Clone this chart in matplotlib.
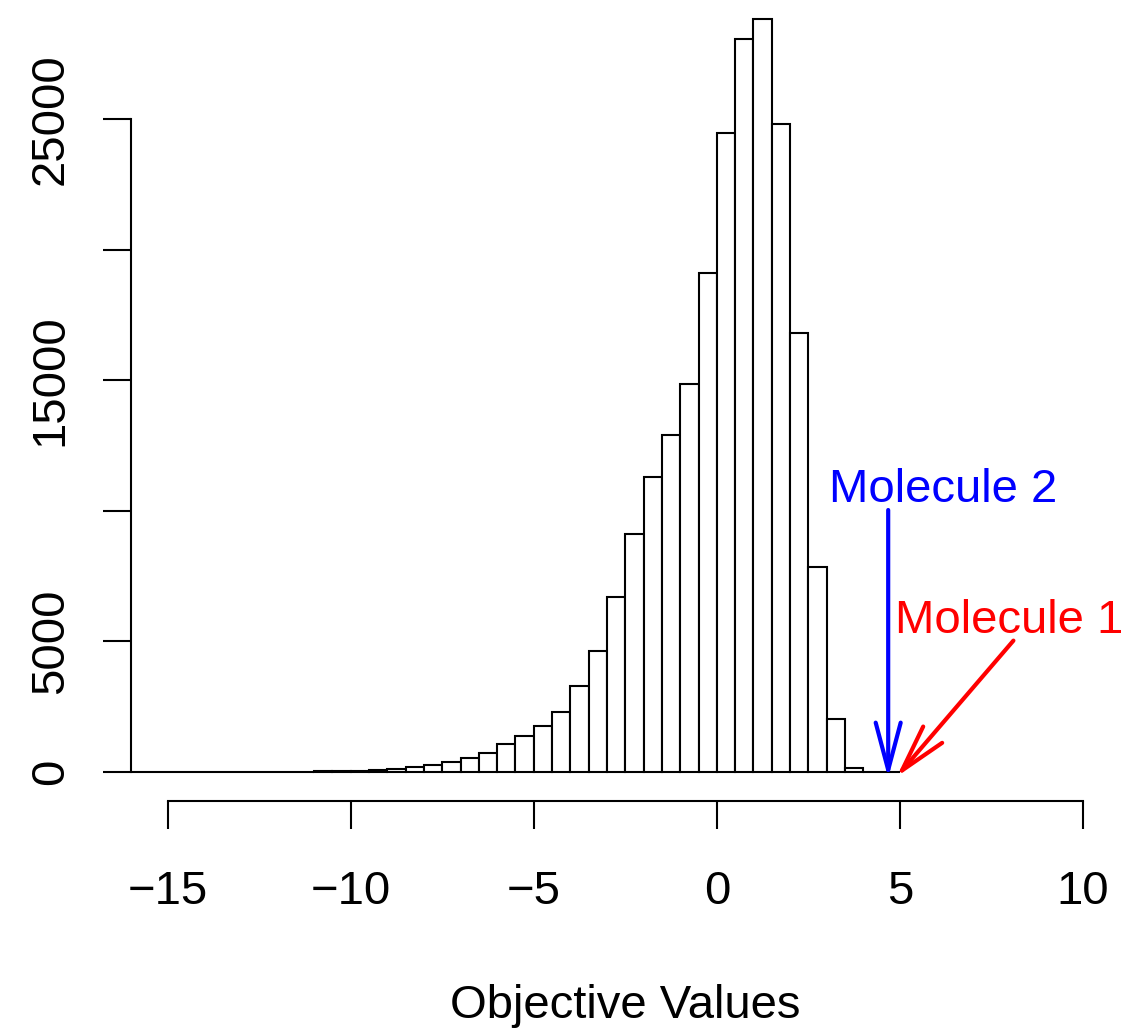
import numpy as np
import matplotlib
matplotlib.use("Agg")
import matplotlib.pyplot as plt

plt.rcParams['font.family'] = ['Liberation Sans', 'DejaVu Sans']

# histogram counts, bins of width 0.5 starting at -16
bin_left = [-16.0, -15.5, -15.0, -14.5, -14.0, -13.5, -13.0, -12.5, -12.0, -11.5,
            -11.0, -10.5, -10.0, -9.5, -9.0, -8.5, -8.0, -7.5, -7.0, -6.5,
            -6.0, -5.5, -5.0, -4.5, -4.0, -3.5, -3.0, -2.5, -2.0, -1.5,
            -1.0, -0.5, 0.0, 0.5, 1.0, 1.5, 2.0, 2.5, 3.0, 3.5, 4.0, 4.5]
counts = [10, 8, 6, 6, 5, 6, 8, 10, 12, 16,
          22, 30, 50, 65, 125, 190, 255, 380, 535, 715,
          1060, 1380, 1775, 2300, 3305, 4630, 6710, 9110, 11300, 12900,
          14870, 19090, 24480, 28080, 28830, 24820, 16820, 7860, 2030, 165, 15, 3]
bin_width = 0.5

x_ticks = [-15, -10, -5, 0, 5, 10]
y_ticks = [0, 5000, 10000, 15000, 20000, 25000]
y_tick_labels = ['0', '5000', '', '15000', '', '25000']

# annotations: (label, text x, text y, arrow tail, arrow tip, colour)
mol2 = ("Molecule 2", 6.19, 10350, (4.68, 10030), (4.68, -230), "#0000FF")
mol1 = ("Molecule 1", 7.98, 5330, (8.10, 5030), (4.91, -180), "#FF0000")

fig = plt.figure(figsize=(11.24, 10.29), dpi=100)
W, H = 1124, 1029
ax = fig.add_axes([131 / W, (H - 801) / H, (1119.6 - 131) / W, 801 / H])

ax.bar(bin_left, counts, width=bin_width, align='edge',
       facecolor='white', edgecolor='black', linewidth=1.5, zorder=2)

ax.set_xlim(-16, 11)
ax.set_ylim(-1110, 29556)

# R-like axes: lines only span first..last tick
for s in ['top', 'right']:
    ax.spines[s].set_visible(False)
ax.spines['left'].set_bounds(0, 25000)
ax.spines['bottom'].set_bounds(-15, 10)
for s in ['left', 'bottom']:
    ax.spines[s].set_linewidth(1.5)

ax.set_xticks(x_ticks)
ax.set_xticklabels([str(v).replace('-', '\u2212') for v in x_ticks])
ax.set_yticks(y_ticks)
ax.set_yticklabels(y_tick_labels, rotation=90, va='center')
ax.tick_params(axis='both', direction='out', length=20, width=1.5, labelsize=34)
ax.tick_params(axis='x', pad=30)
ax.tick_params(axis='y', pad=22)

ax.set_xlabel("Objective Values", fontsize=34, labelpad=50)

for label, tx, ty, tail, tip, col in [mol2, mol1]:
    ax.text(tx, ty, label, color=col, ha='center', va='baseline', fontsize=34, zorder=4)
    ax.annotate('', xy=tip, xytext=tail,
                arrowprops=dict(arrowstyle='->,head_length=3.4,head_width=0.9',
                                mutation_scale=10, lw=3, color=col,
                                shrinkA=0, shrinkB=0, capstyle='round',
                                joinstyle='round'),
                zorder=5, annotation_clip=False)

fig.savefig("out.png", dpi=100)
